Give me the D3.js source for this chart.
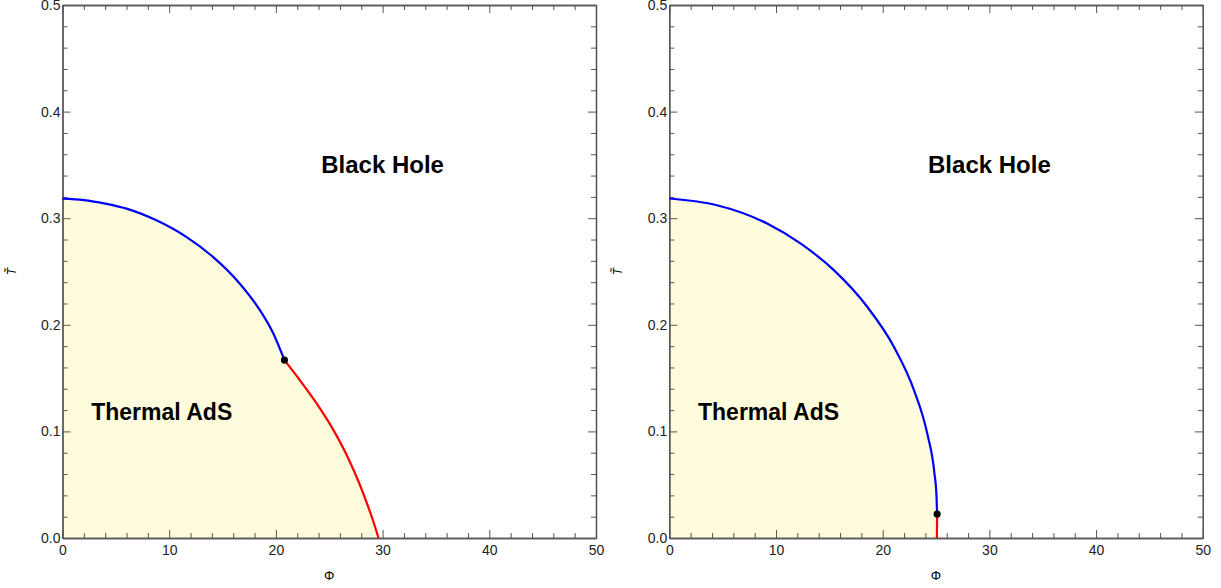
<!DOCTYPE html>
<html><head><meta charset="utf-8">
<script src="https://cdn.jsdelivr.net/npm/d3@7"></script>
<style>body{margin:0;background:#fff}svg{display:block}text{font-family:"Liberation Sans",Arial,sans-serif}</style>
</head><body>
<svg id="c" width="1221" height="588"></svg>
<script>
const xTicks = [0,10,20,30,40,50];
const yTicks = [0.0,0.1,0.2,0.3,0.4,0.5];
const leftBluePhi = [0,2.0,4.0,6.0,8.8,11.6,14.1,16.6,18.5,19.76,20.8];
const leftBlueT   = [0.3183,0.3170,0.3137,0.309,0.298,0.2825,0.2637,0.2388,0.2138,0.1919,0.1669];
const leftRedPhi  = [20.8,22.3,23.8,25.3,26.8,27.8,28.5,29.1,29.62];
const leftRedT    = [0.1669,0.1473,0.1265,0.1028,0.0744,0.0516,0.0334,0.0164,0.0];
const rightBluePhi = [0,4.47,9.17,12.29,15.42,18.55,21.05,22.93,24.17,24.85,25.04,25.1];
const rightBlueT   = [0.3185,0.3122,0.295,0.2763,0.2513,0.2169,0.1794,0.1388,0.0982,0.0607,0.040,0.0225];
const rightRedPhi  = [25.1,25.08];
const rightRedT    = [0.0225,0.0];
const leftCritical = [20.8,0.1669];
const rightCritical = [25.1,0.0225];
const labelBH = "Black Hole", labelAdS = "Thermal AdS";

const svg = d3.select("#c");
const zip = (a,b)=>a.map((v,i)=>[v,b[i]]);

function panel(x0, blue, red, crit){
  const W = 533.5, top = 5, bottom = 538;
  const x = d3.scaleLinear().domain([0,50]).range([x0, x0+W]);
  const y = d3.scaleLinear().domain([0,0.5]).range([bottom, top]);
  const g = svg.append("g");
  const smooth = d3.line().x(d=>x(d[0])).y(d=>y(d[1])).curve(d3.curveMonotoneX);
  const straight = d3.line().x(d=>x(d[0])).y(d=>y(d[1]));
  const redMono = red.every((d,i)=>i===0||d[0]>red[i-1][0]) && red.length>2;
  const redPath = redMono ? smooth(red) : straight(red);
  g.append("path").attr("d", smooth(blue) + redPath.replace(/^M[^A-Za-z]*/,"") + "L" + x(0) + "," + y(0) + "Z")
    .attr("fill","#fefcdc").attr("stroke","none");
  const axCol = "#555";
  const minorX = d3.range(0,50.01,2).filter(v=>v%10);
  const minorY = d3.range(0,26).map(i=>i*0.02).filter((v,i)=>i%5);
  const parts = [];
  parts.push(g.append("g").attr("transform",`translate(0,${bottom})`)
    .call(d3.axisBottom(x).tickValues(xTicks).tickSize(-8).tickPadding(7).tickSizeOuter(0).tickFormat(d3.format("d"))));
  parts.push(g.append("g").attr("transform",`translate(0,${bottom})`)
    .call(d3.axisBottom(x).tickValues(minorX).tickSize(-5).tickFormat("").tickSizeOuter(0)));
  parts.push(g.append("g").attr("transform",`translate(0,${top})`)
    .call(d3.axisTop(x).tickValues(xTicks).tickSize(-8).tickFormat("").tickSizeOuter(0)));
  parts.push(g.append("g").attr("transform",`translate(0,${top})`)
    .call(d3.axisTop(x).tickValues(minorX).tickSize(-5).tickFormat("").tickSizeOuter(0)));
  parts.push(g.append("g").attr("transform",`translate(${x0},0)`)
    .call(d3.axisLeft(y).tickValues(yTicks).tickSize(-8).tickPadding(2).tickSizeOuter(0).tickFormat(d3.format(".1f"))));
  parts.push(g.append("g").attr("transform",`translate(${x0},0)`)
    .call(d3.axisLeft(y).tickValues(minorY).tickSize(-5).tickFormat("").tickSizeOuter(0)));
  parts.push(g.append("g").attr("transform",`translate(${x0+W},0)`)
    .call(d3.axisRight(y).tickValues(yTicks).tickSize(-8).tickFormat("").tickSizeOuter(0)));
  parts.push(g.append("g").attr("transform",`translate(${x0+W},0)`)
    .call(d3.axisRight(y).tickValues(minorY).tickSize(-5).tickFormat("").tickSizeOuter(0)));
  parts.forEach(a=>{
    a.selectAll("line").attr("stroke",axCol);
    a.selectAll(".domain").attr("stroke",axCol).attr("stroke-width",1.3);
    a.selectAll("text").attr("fill","#222").style("font-size","14px").attr("font-family","Liberation Sans, Arial, sans-serif");
  });
  g.append("path").attr("d",smooth(blue)).attr("fill","none").attr("stroke","#0000ff").attr("stroke-width",2.2);
  g.append("path").attr("d",redPath).attr("fill","none").attr("stroke","#ff0000").attr("stroke-width",2.2);
  g.append("circle").attr("cx",x(crit[0])).attr("cy",y(crit[1])).attr("r",3.6).attr("fill","#000");
  g.append("text").attr("x",x(30)).attr("y",y(0.3423)).attr("text-anchor","middle")
    .style("font-size","24px").style("font-weight","bold").text(labelBH);
  g.append("text").attr("x",x(9.3)).attr("y",y(0.1106)).attr("text-anchor","middle")
    .style("font-size","23px").style("font-weight","bold").text(labelAdS);
  g.append("text").attr("x",x(25)).attr("y",580).attr("text-anchor","middle")
    .style("font-size","13px").text("Φ");
  g.append("text").attr("transform",`translate(${x0-47},${y(0.25)}) rotate(-90)`).attr("text-anchor","middle")
    .style("font-size","12px").style("font-style","italic").text("T\u0303");
}
panel(62.5, zip(leftBluePhi,leftBlueT), zip(leftRedPhi,leftRedT), leftCritical);
panel(669.3, zip(rightBluePhi,rightBlueT), zip(rightRedPhi,rightRedT), rightCritical);
</script>
</body></html>
